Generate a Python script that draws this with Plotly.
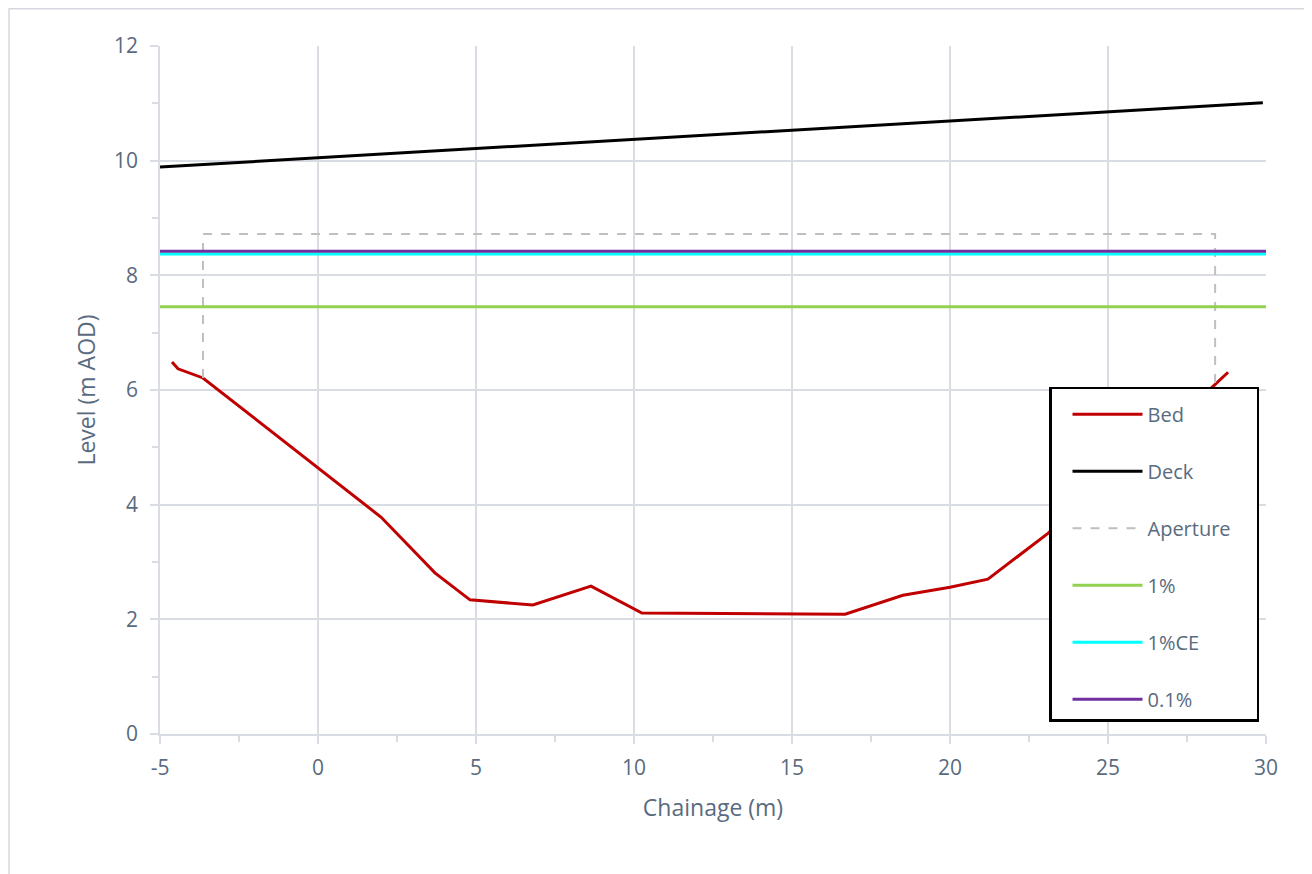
import plotly.graph_objects as go

# Data
bed_x = [-4.62, -4.43, -3.64, 2.0, 3.70, 4.81, 6.80, 8.64, 10.25, 16.68, 18.51, 20.0, 21.2, 23.1, 28.3, 28.8]
bed_y = [6.49, 6.37, 6.21, 3.78, 2.81, 2.34, 2.25, 2.58, 2.11, 2.09, 2.42, 2.56, 2.70, 3.50, 6.05, 6.31]

deck_x = [-5.0, 29.9]
deck_y = [9.89, 11.01]

aperture_x = [-3.64, -3.64, 28.39, 28.39]
aperture_y = [6.21, 8.72, 8.72, 6.08]

flood_x = [-5.0, 30.0]
level_1pct = 7.45
level_1pct_ce = 8.37
level_01pct = 8.42

x_ticks = [-5, 0, 5, 10, 15, 20, 25, 30]
x_tick_labels = ["-5", "0", "5", "10", "15", "20", "25", "30"]
y_ticks = [0, 2, 4, 6, 8, 10, 12]

text_color = "#596b7e"
grid_color = "#d9dde3"
font_family = "'Open Sans', Lato, sans-serif"
pad = "\u00a0" * 4  # widens the legend box to match the reference

fig = go.Figure()

series = [
    ("Bed", bed_x, bed_y, dict(color="#c00000", width=3)),
    ("Deck", deck_x, deck_y, dict(color="#000000", width=3)),
    ("Aperture" + pad, aperture_x, aperture_y, dict(color="#bfbfbf", width=2, dash="dash")),
    ("1%", flood_x, [level_1pct] * 2, dict(color="#92d050", width=3)),
    ("1%CE", flood_x, [level_1pct_ce] * 2, dict(color="#00ffff", width=3)),
    ("0.1%", flood_x, [level_01pct] * 2, dict(color="#7030a0", width=3)),
]
for name, xs, ys, line in series:
    fig.add_trace(go.Scatter(x=xs, y=ys, mode="lines", name=name, line=line,
                             legendgroup=name, hoverinfo="x+y+name"))

fig.update_layout(
    width=1312, height=874,
    margin=dict(l=152, r=54, t=38, b=148),
    paper_bgcolor="white", plot_bgcolor="white",
    font=dict(family=font_family, size=20, color=text_color),
    showlegend=True,
    legend=dict(
        x=0.8038, y=0.5044, xanchor="left", yanchor="top",
        bgcolor="white", bordercolor="black", borderwidth=2.5,
        traceorder="grouped", tracegroupgap=28,
        itemwidth=70, indentation=16,
        title=dict(text=" ", font=dict(size=4)),
        font=dict(family=font_family, size=20, color=text_color),
    ),
    xaxis=dict(
        range=[-5, 30], tickvals=x_ticks, ticktext=x_tick_labels,
        showgrid=True, gridcolor=grid_color, gridwidth=1.5,
        zeroline=False, showline=True, linecolor=grid_color, linewidth=1.5,
        ticks="outside", ticklen=8, tickcolor=grid_color, tickwidth=1.5,
        ticklabelstandoff=6,
        minor=dict(dtick=2.5, ticks="outside", ticklen=6, tickcolor=grid_color, showgrid=False),
        title=dict(text="Chainage (m)", font=dict(size=23, color=text_color), standoff=20),
        tickfont=dict(size=21, color=text_color),
    ),
    yaxis=dict(
        range=[0, 12], tickvals=y_ticks, showgrid=True, gridcolor=grid_color, gridwidth=1.5,
        zeroline=False, showline=True, linecolor=grid_color, linewidth=1.5,
        ticks="outside", ticklen=8, tickcolor=grid_color, tickwidth=1.5,
        ticklabelstandoff=8,
        minor=dict(dtick=1, ticks="outside", ticklen=6, tickcolor=grid_color, showgrid=False),
        title=dict(text="Level (m AOD)", font=dict(size=23, color=text_color), standoff=12),
        tickfont=dict(size=21, color=text_color),
    ),
    shapes=[dict(type="rect", xref="paper", yref="paper",
                 x0=-0.1365, x1=1.0375, y0=-0.25, y1=1.0540,
                 line=dict(color="#d4d8de", width=1.5), fillcolor="rgba(0,0,0,0)", layer="below")],
)

fig.write_html("out.html")
